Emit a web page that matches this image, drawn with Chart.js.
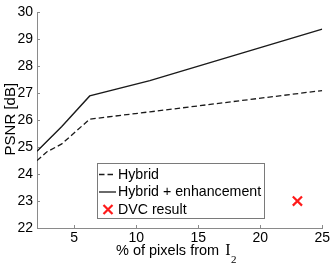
<!DOCTYPE html>
<html><head><meta charset="utf-8">
<script src="https://cdn.jsdelivr.net/npm/chart.js@4/dist/chart.umd.min.js"></script>
<style>html,body{margin:0;padding:0;background:#fff}#wrap{width:332px;height:266px}</style>
</head><body><div id="wrap"><canvas id="c" width="332" height="266"></canvas></div>
<script>
const hybridX = [2, 2.78, 4, 6.25, 11.1, 25];
const hybridY = [24.5, 24.82, 25.12, 26.04, 26.31, 27.1];
const enhX = [2, 4, 6.25, 11.1, 25];
const enhY = [24.85, 25.77, 26.9, 27.47, 29.38];
const dvcX = [23];
const dvcY = [23];
const xTicks = [5, 10, 15, 20, 25];
const yTicks = [22, 23, 24, 25, 26, 27, 28, 29, 30];
const labels = ['Hybrid', 'Hybrid + enhancement', 'DVC result'];
const FONT = '"Liberation Sans", Arial, sans-serif';
const SERIF = '"Liberation Serif", "DejaVu Serif", serif';

const pts = (xs, ys) => xs.map((x, i) => ({x, y: ys[i]}));

const extras = {
  id: 'extras',
  afterDraw(chart) {
    const ctx = chart.ctx, a = chart.chartArea;
    const xs = chart.scales.x, ys = chart.scales.y;
    ctx.save();
    // inward ticks
    ctx.strokeStyle = '#8a8a8a'; ctx.lineWidth = 1;
    ctx.beginPath();
    xTicks.forEach(v => { const p = Math.round(xs.getPixelForValue(v)) + 0.5; ctx.moveTo(p, a.bottom); ctx.lineTo(p, a.bottom - 3); });
    yTicks.forEach(v => { const p = Math.round(ys.getPixelForValue(v)) + 0.5; ctx.moveTo(a.left, p); ctx.lineTo(a.left + 3, p); });
    ctx.stroke();
    // x title
    ctx.fillStyle = '#000'; ctx.textBaseline = 'alphabetic';
    const t1 = '% of pixels from ';
    ctx.font = '14.5px ' + FONT;
    const w1 = ctx.measureText(t1).width;
    ctx.font = '16px ' + SERIF;
    const w2 = ctx.measureText('I').width;
    let sx = 116;
    ctx.font = '14.5px ' + FONT; ctx.textAlign = 'left';
    ctx.fillText(t1, sx, 255);
    ctx.font = '16px ' + SERIF;
    ctx.fillText('I', sx + w1 + 2, 255);
    ctx.font = '11px ' + SERIF;
    ctx.fillText('2', sx + w1 + w2 + 2.5, 263);
    // y title
    ctx.save();
    ctx.translate(10.5, (a.top + a.bottom) / 2 - 1);
    ctx.rotate(-Math.PI / 2);
    ctx.font = '15px ' + FONT; ctx.textAlign = 'center'; ctx.textBaseline = 'middle';
    ctx.fillText('PSNR [dB]', 0, 0);
    ctx.restore();
    // legend
    const L = {x: 97.5, y: 163.5, w: 167, h: 55};
    ctx.fillStyle = '#fff'; ctx.fillRect(L.x, L.y, L.w, L.h);
    ctx.strokeStyle = '#7a7a7a'; ctx.lineWidth = 1; ctx.strokeRect(L.x, L.y, L.w, L.h);
    const rows = [174.5, 192, 209.5];
    chart.data.datasets.forEach((ds, i) => {
      const y = rows[i];
      if (i < 2) {
        ctx.strokeStyle = ds.borderColor; ctx.lineWidth = 1.3;
        ctx.setLineDash(ds.borderDash || []);
        ctx.beginPath(); ctx.moveTo(99, y); ctx.lineTo(116, y); ctx.stroke();
        ctx.setLineDash([]);
      } else {
        ctx.strokeStyle = ds.borderColor; ctx.lineWidth = 2.2;
        const c = 108, r = 4.5;
        ctx.beginPath(); ctx.moveTo(c - r, y - r); ctx.lineTo(c + r, y + r);
        ctx.moveTo(c - r, y + r); ctx.lineTo(c + r, y - r); ctx.stroke();
      }
      ctx.fillStyle = '#000'; ctx.font = '14.2px ' + FONT;
      ctx.textAlign = 'left'; ctx.textBaseline = 'middle';
      ctx.fillText(ds.label, 118, y + 0.5);
    });
    ctx.restore();
  }
};

new Chart(document.getElementById('c'), {
  type: 'scatter',
  data: {
    datasets: [
      {label: labels[0], data: pts(hybridX, hybridY), showLine: true, borderColor: '#1a1a1a', borderWidth: 1.3, borderDash: [5.5, 3], pointRadius: 0, tension: 0, fill: false},
      {label: labels[1], data: pts(enhX, enhY), showLine: true, borderColor: '#1a1a1a', borderWidth: 1.4, pointRadius: 0, tension: 0, fill: false},
      {label: labels[2], data: pts(dvcX, dvcY), showLine: false, borderColor: '#ff1a1a', backgroundColor: '#ff1a1a', pointStyle: 'crossRot', pointRadius: 6.5, borderWidth: 2.2}
    ]
  },
  options: {
    responsive: false, animation: false, devicePixelRatio: 1,
    layout: {padding: {top: 9, right: 9, left: 0, bottom: 0}},
    plugins: {legend: {display: false}, tooltip: {enabled: false}},
    scales: {
      x: {
        type: 'linear', min: 2, max: 25,
        afterBuildTicks: s => { s.ticks = xTicks.map(v => ({value: v})); },
        afterFit: s => { s.height = 38; },
        grid: {display: true, drawOnChartArea: false, drawTicks: false, color: '#8a8a8a'},
        border: {display: true, color: '#8a8a8a'},
        ticks: {color: '#000', font: {family: FONT, size: 14}, padding: 2, maxRotation: 0}
      },
      y: {
        type: 'linear', min: 22, max: 30,
        afterBuildTicks: s => { s.ticks = yTicks.map(v => ({value: v})); },
        afterFit: s => { s.width = 37; },
        grid: {display: true, drawOnChartArea: false, drawTicks: false, color: '#8a8a8a'},
        border: {display: true, color: '#8a8a8a'},
        ticks: {color: '#000', font: {family: FONT, size: 14}, padding: 4}
      }
    }
  },
  plugins: [extras]
});
</script></body></html>
